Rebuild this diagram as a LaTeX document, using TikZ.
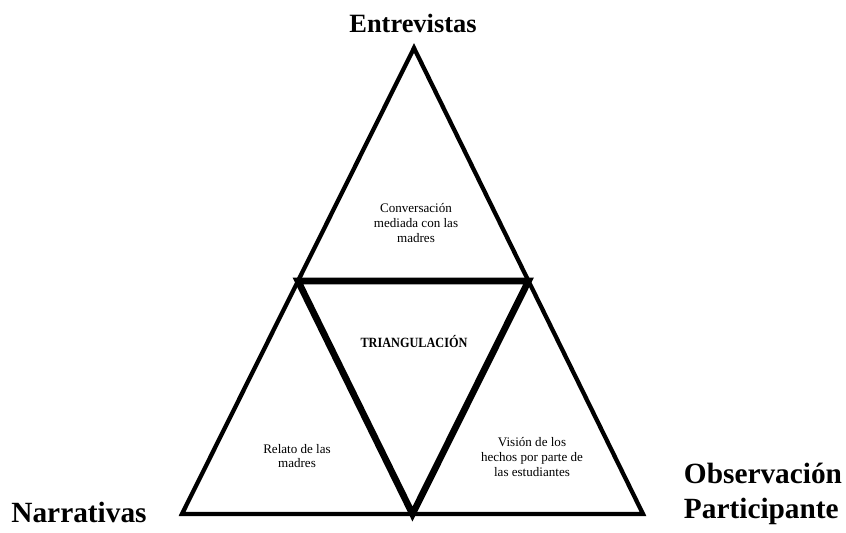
\documentclass[tikz,border=0pt]{standalone}
\usepackage{fontspec}
\setmainfont{Liberation Serif}
\usetikzlibrary{calc}
\tikzset{
  corner/.style={font=\bfseries\fontsize{22}{26.3}\selectfont},
  inside/.style={align=center, font=\fontsize{9.8}{10.9}\selectfont},
}
\begin{document}
\begin{tikzpicture}[x=0.75pt, y=-0.75pt]
\useasboundingbox (0,0) rectangle (846,532);
% vertices
\coordinate (top) at (414,48);
\coordinate (bl) at (182,514);
\coordinate (br) at (643,514);
\coordinate (ml) at ($(top)!.5!(bl)$);
\coordinate (mr) at ($(top)!.5!(br)$);
\coordinate (mb) at ($(bl)!.5!(br)$);
\draw[line width=3.2pt, line join=miter] (top) -- (bl) -- (br) -- cycle;
\draw[line width=5pt, line join=miter] (ml) -- (mr) -- (mb) -- cycle;
% labels
\node[corner, font=\bfseries\fontsize{19.8}{24}\selectfont] (entre) at (413,23) {Entrevistas};
\node[corner] (narra) at (79,512) {Narrativas};
\node[corner, align=left] (obse) at (763,494) {Observación\\Participante};
\node[inside] (conv) at (416,223) {Conversación\\mediada con las\\madres};
\node[font=\bfseries\fontsize{9.2}{10}\selectfont, yscale=1.15] (trian) at (414,342) {TRIANGULACIÓN};
\node[inside] (rela) at (297,456) {Relato de las\\madres};
\node[inside] (vision) at (532,457) {Visión de los\\hechos por parte de\\las estudiantes};
\end{tikzpicture}
\end{document}
